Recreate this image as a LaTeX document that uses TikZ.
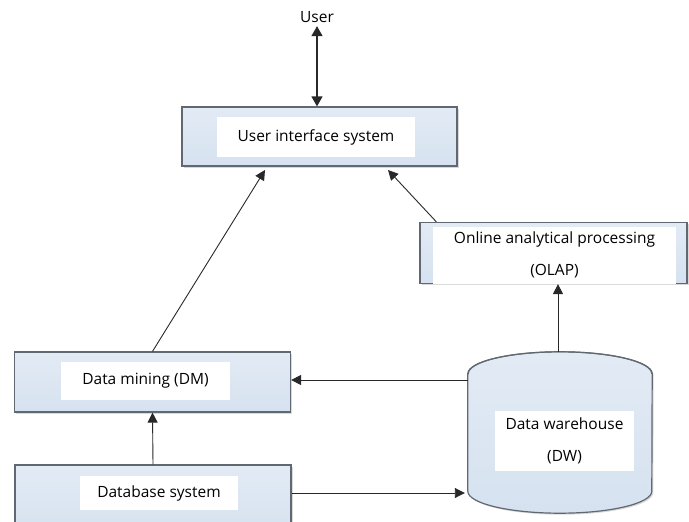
\documentclass[tikz,border=0pt]{standalone}
\usepackage{fontspec}
\setmainfont{Open Sans}
\usetikzlibrary{calc, arrows.meta, shadows}

\definecolor{boxfill}{RGB}{214,226,240}
\definecolor{boxline}{RGB}{96,104,114}
\definecolor{arrowline}{RGB}{40,40,40}

\tikzset{
    sysbox/.style={draw=boxline, line width=1.2pt, top color=boxfill!70, bottom color=boxfill,
        drop shadow={shadow xshift=1.5pt, shadow yshift=-1.5pt, opacity=0.3},
        inner sep=0pt},
    labelbox/.style={fill=white, inner sep=0pt, align=center,
        font=\fontsize{15.5}{32}\selectfont},
    flow/.style={draw=arrowline, line width=0.9pt, -{Triangle[length=10pt,width=10pt]}}
}

\begin{document}
\begin{tikzpicture}[x=1pt, y=-1pt]
    \useasboundingbox (0,0) rectangle (689,522);
    \clip (0,0) rectangle (689,522);

    % boxes
    \node[sysbox, minimum width=275pt, minimum height=59pt] (ui) at (319.5,136.5) {};
    \node[labelbox, minimum width=198pt, minimum height=40pt] (uilabel) at (316,137) {User interface system};

    \node[sysbox, minimum width=267pt, minimum height=61pt] (olap) at (553.5,253) {};
    \node[labelbox, minimum width=243pt, minimum height=57pt] (olaplabel) at (554.5,255)
        {Online analytical processing\\(OLAP)};

    \node[sysbox, minimum width=276pt, minimum height=60pt] (dm) at (152.5,382) {};
    \node[labelbox, minimum width=169pt, minimum height=38pt] (dmlabel) at (145.5,381) {Data mining (DM)};

    \node[sysbox, minimum width=276pt, minimum height=70pt] (db) at (153,500) {};
    \node[labelbox, minimum width=158pt, minimum height=34pt] (dblabel) at (159,493) {Database system};

    % cylinder
    \node[minimum width=184pt, minimum height=161pt, inner sep=0pt] (dw) at (560,432.5) {};
    \path[draw=boxline, line width=1.2pt, top color=boxfill!70, bottom color=boxfill,
        drop shadow={shadow xshift=1.5pt, shadow yshift=-1.5pt, opacity=0.3}]
        ($(dw.north west)+(0,22)$) -- ($(dw.south west)+(0,-22)$)
        arc[start angle=180, end angle=360, x radius=92, y radius=-22]
        -- ($(dw.north east)+(0,22)$)
        arc[start angle=0, end angle=180, x radius=92, y radius=-22] -- cycle;
    \draw[boxline, line width=1.2pt] ($(dw.north west)+(0,22)$)
        arc[start angle=180, end angle=360, x radius=92, y radius=22];
    \node[labelbox, minimum width=139pt, minimum height=60pt] (dwlabel) at (564.5,441)
        {Data warehouse\\(DW)};

    % user
    \node[font=\fontsize{15.5}{18}\selectfont] (user) at (317,17) {User};

    % connectors
    \draw[draw=arrowline, line width=1.4pt, {Triangle[length=10pt,width=11pt]}-{Triangle[length=10pt,width=11pt]}]
        (user.south) -- (ui.north -| user.south);
    \draw[flow] (olap.north west) ++(17,0) coordinate (olapstart) -- (388,170);
    \draw[flow] (dm.north) -- (265,170);
    \draw[flow] (db.north) -- (dm.south);
    \draw[flow] (dw.north -| 558,0) -- (olap.south -| 558,0);
    \draw[flow] (dw.west |- 0,380) -- (dm.east |- 0,380);
    \draw[flow] (db.east |- 0,493) -- ($(dw.west |- 0,493)+(-3,0)$);
\end{tikzpicture}
\end{document}
